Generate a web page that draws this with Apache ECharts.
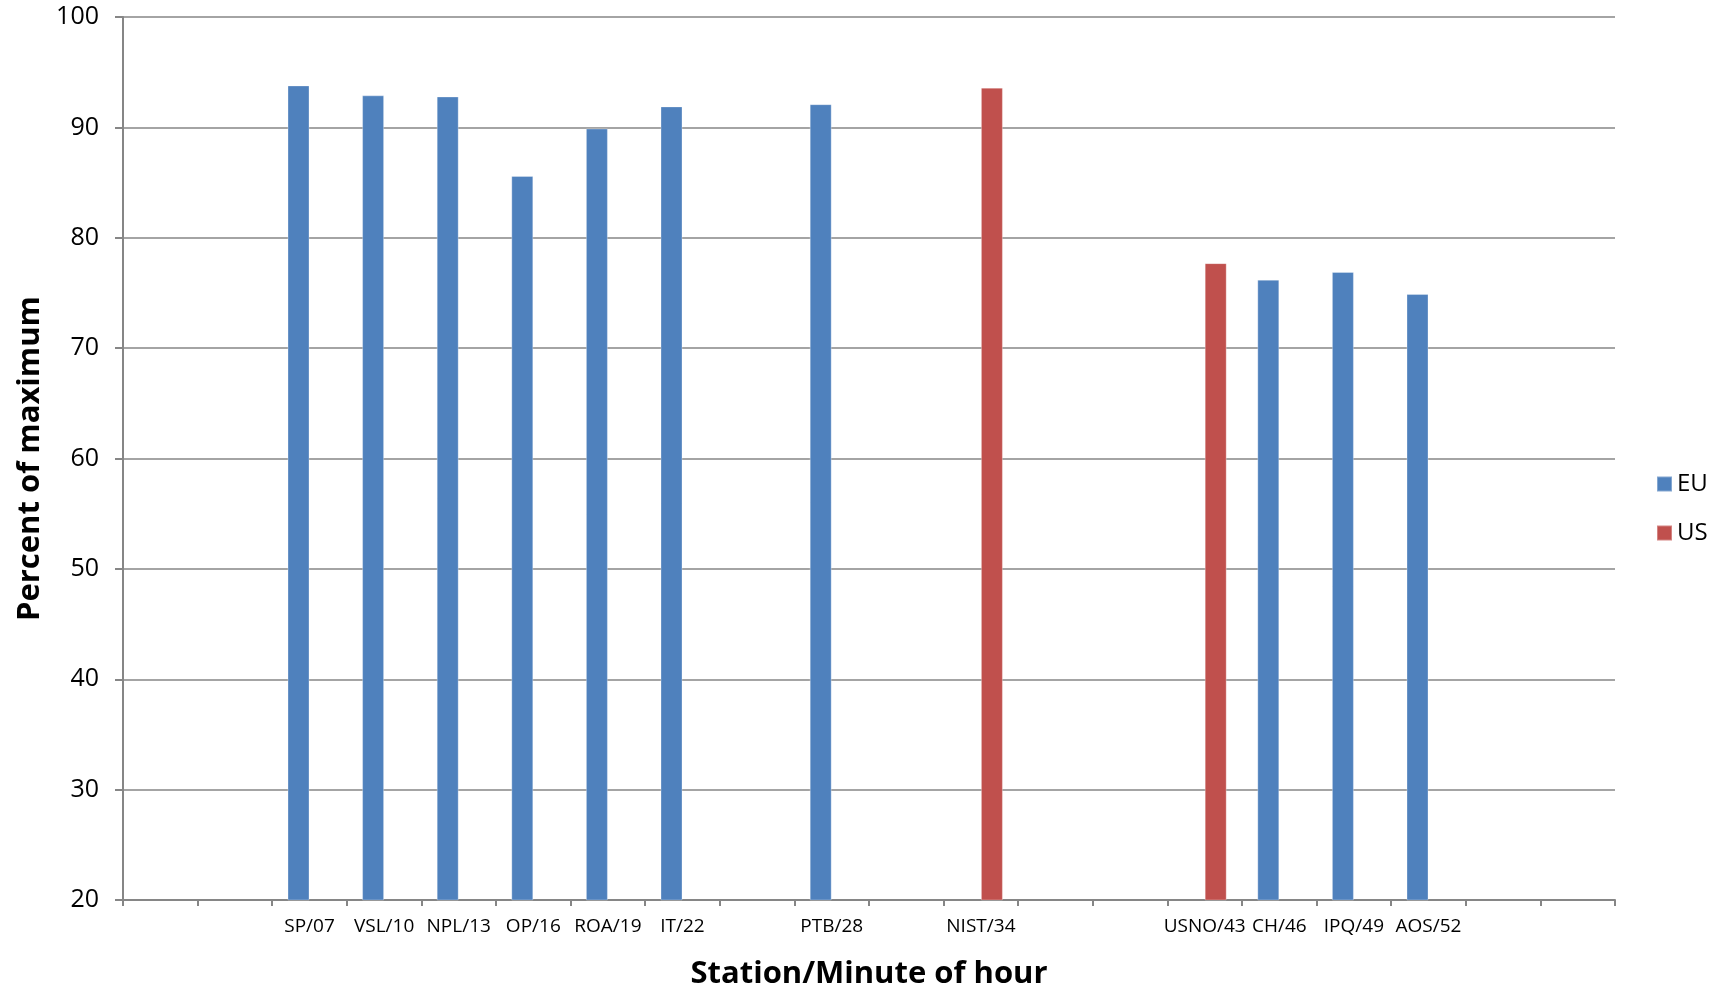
<!DOCTYPE html>
<html lang="en">
<head>
    <meta charset="UTF-8">
    <title>Percent of maximum by station</title>
    <style>
        html, body { margin: 0; padding: 0; background: #fff; }
    </style>
</head>
<body>
    <div id="main" style="width:1729px; height:991px;"></div>
    <script src="https://cdn.jsdelivr.net/npm/echarts@6/dist/echarts.min.js"></script>
    <script>
    // station/minute slots, blanks are minutes with no station
    var stations = ['', '', 'SP/07', 'VSL/10', 'NPL/13', 'OP/16', 'ROA/19', 'IT/22', '', 'PTB/28',
        '', 'NIST/34', '', '', 'USNO/43', 'CH/46', 'IPQ/49', 'AOS/52', '', ''];
    var euValues = [null, null, 93.8, 92.9, 92.8, 85.6, 89.9, 91.9, null, 92.1,
        null, null, null, null, null, 76.2, 76.9, 74.9, null, null];
    var usValues = [null, null, null, null, null, null, null, null, null, null,
        null, 93.6, null, null, 77.7, null, null, null, null, null];
    var yTicks = [20, 30, 40, 50, 60, 70, 80, 90, 100];

    var font = '"Open Sans", sans-serif';
    var gray = '#868686';

    var myChart = echarts.init(document.getElementById('main'));
    myChart.setOption({
        animation: false,
        color: ['#4F81BD', '#C0504D'],
        textStyle: { fontFamily: font, color: '#000' },
        grid: { left: 123, right: 114, top: 17, bottom: 91, outerBoundsMode: 'none', containLabel: false },
        legend: {
            orient: 'vertical',
            left: 1656,
            top: 472,
            padding: 0,
            itemWidth: 15,
            itemHeight: 15,
            itemGap: 25,
            icon: 'rect',
            textStyle: { fontSize: 24, fontFamily: font, color: '#000' },
            data: ['EU', 'US']
        },
        xAxis: {
            type: 'category',
            data: stations,
            name: 'Station/Minute of hour',
            nameLocation: 'middle',
            nameGap: 59,
            nameTextStyle: { fontSize: 31, fontWeight: 'bold', fontFamily: font, color: '#000' },
            axisLine: { lineStyle: { color: gray, width: 2 } },
            axisTick: { show: true, inside: false, length: 6, alignWithLabel: false, lineStyle: { color: gray, width: 2 } },
            axisLabel: { interval: 0, fontSize: 19, margin: 17, color: '#000', fontFamily: font },
            splitLine: { show: false }
        },
        yAxis: {
            type: 'value',
            min: yTicks[0],
            max: yTicks[yTicks.length - 1],
            interval: 10,
            name: 'Percent of maximum',
            nameLocation: 'middle',
            nameGap: 77,
            nameRotate: 90,
            nameTextStyle: { fontSize: 31, fontWeight: 'bold', fontFamily: font, color: '#000' },
            axisLine: { show: true, lineStyle: { color: gray, width: 2 } },
            axisTick: { show: true, length: 8, lineStyle: { color: gray, width: 2 } },
            axisLabel: { fontSize: 25, margin: 24, color: '#000', fontFamily: font },
            splitLine: { show: true, lineStyle: { color: gray, width: 1.5 } }
        },
        series: [
            {
                name: 'EU',
                type: 'bar',
                data: euValues,
                barWidth: 22,
                barGap: '0%',
                itemStyle: { borderColor: 'rgba(255,255,255,0.3)', borderWidth: 1 }
            },
            {
                name: 'US',
                type: 'bar',
                data: usValues,
                barWidth: 22,
                barGap: '0%',
                itemStyle: { borderColor: 'rgba(255,255,255,0.3)', borderWidth: 1 }
            }
        ]
    });
    window.onresize = myChart.resize;
    </script>
</body>
</html>
